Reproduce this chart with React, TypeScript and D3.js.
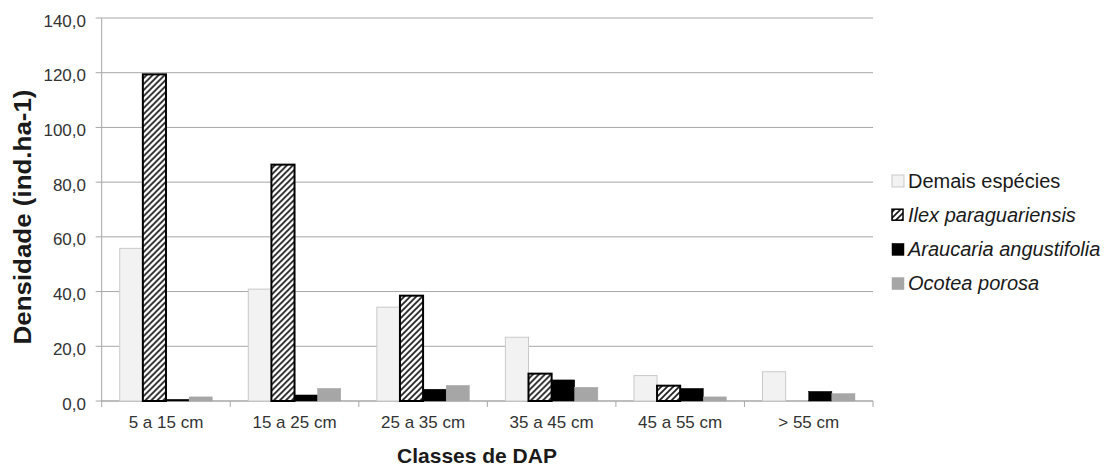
import React from "react";
import * as d3 from "d3";

const categories = ["5 a 15 cm", "15 a 25 cm", "25 a 35 cm", "35 a 45 cm", "45 a 55 cm", "> 55 cm"];
const seriesNames = ["Demais espécies", "Ilex paraguariensis", "Araucaria angustifolia", "Ocotea porosa"];
const demais = [55.8, 40.9, 34.3, 23.3, 9.3, 10.7];
const ilex = [119.4, 86.4, 38.5, 10.0, 5.6, 0.0];
const araucaria = [0.6, 2.2, 4.3, 7.7, 4.6, 3.5];
const ocotea = [1.5, 4.6, 5.7, 5.0, 1.5, 2.7];
const yTicks = [0, 20, 40, 60, 80, 100, 120, 140];

const seriesValues = [demais, ilex, araucaria, ocotea];
const italicSeries = [false, true, true, true];

const W = 1107;
const H = 466;
const plotLeft = 101.7;
const plotRight = 873;
const plotTop = 18;
const plotBottom = 401;

const fontFamily = "'Liberation Sans', Arial, sans-serif";
const locale = d3.formatLocale({ decimal: ",", thousands: ".", grouping: [3], currency: ["", ""] });
const fmt = locale.format(".1f");

const fills = ["#f2f2f2", "url(#hatch)", "#000000", "#a6a6a6"];
const strokes = ["#c9c9c9", "#000000", "#000000", "#a6a6a6"];
const strokeWidths = [1, 2, 0.5, 0.5];

export default function App() {
  const x = d3.scaleBand<string>().domain(categories).range([plotLeft, plotRight]).paddingInner(0).paddingOuter(0);
  const xInner = d3
    .scaleBand<string>()
    .domain(seriesNames)
    .range([0, x.bandwidth()])
    .paddingInner(0)
    .paddingOuter(0.78);
  const y = d3.scaleLinear().domain([0, 140]).range([plotBottom, plotTop]);

  const boundaries = categories.map((c) => x(c) as number).concat([plotRight]);

  return (
    <svg width={W} height={H} style={{ position: "absolute", left: 0, top: 0, background: "#fff" }} fontFamily={fontFamily}>
      <defs>
        <pattern id="hatch" patternUnits="userSpaceOnUse" width={6} height={6}>
          <rect width={6} height={6} fill="#fff" />
          <path d="M0,6 L6,0 M-1.5,1.5 L1.5,-1.5 M4.5,7.5 L7.5,4.5" stroke="#1a1a1a" strokeWidth={1.7} />
        </pattern>
      </defs>
      <rect x={0} y={0} width={W} height={H} fill="#fff" />

      {/* gridlines */}
      {yTicks.map((t) => (
        <line key={"g" + t} x1={plotLeft} x2={plotRight} y1={y(t)} y2={y(t)} stroke="#a6a6a6" strokeWidth={1} />
      ))}
      {/* y axis */}
      <line x1={plotLeft} x2={plotLeft} y1={plotTop} y2={plotBottom} stroke="#a6a6a6" strokeWidth={1} />
      {yTicks.map((t) => (
        <g key={"yt" + t}>
          <line x1={plotLeft - 6} x2={plotLeft} y1={y(t)} y2={y(t)} stroke="#a6a6a6" />
          <text x={86} y={y(t) + 8.5} textAnchor="end" fontSize={17} fill="#333">
            {fmt(t)}
          </text>
        </g>
      ))}

      {/* x axis */}
      <line x1={plotLeft} x2={plotRight} y1={plotBottom} y2={plotBottom} stroke="#a6a6a6" strokeWidth={1} />
      {boundaries.map((b, i) => (
        <line key={"xt" + i} x1={b} x2={b} y1={plotBottom} y2={plotBottom + 6} stroke="#a6a6a6" />
      ))}

      {/* bars */}
      {categories.map((c, ci) => (
        <g key={c} transform={`translate(${x(c)},0)`}>
          {seriesNames.map((s, si) => {
            const v = seriesValues[si][ci];
            return (
              <rect
                key={s}
                x={xInner(s)}
                y={y(v)}
                width={xInner.bandwidth()}
                height={Math.max(0, y(0) - y(v))}
                fill={fills[si]}
                stroke={strokes[si]}
                strokeWidth={strokeWidths[si]}
              />
            );
          })}
        </g>
      ))}

      {categories.map((c) => (
        <text key={"xl" + c} x={(x(c) as number) + x.bandwidth() / 2} y={428} textAnchor="middle" fontSize={17} fill="#333">
          {c}
        </text>
      ))}

      {/* axis titles */}
      <text x={477} y={463} textAnchor="middle" fontSize={21} fontWeight="bold" fill="#1a1a1a">
        Classes de DAP
      </text>
      <text
        transform={`translate(31,217) rotate(-90)`}
        textAnchor="middle"
        fontSize={23}
        fontWeight="bold"
        fill="#1a1a1a"
        textLength={255}
        lengthAdjust="spacingAndGlyphs"
      >
        Densidade (ind.ha-1)
      </text>

      {/* legend */}
      {seriesNames.map((s, i) => {
        const by = 187.5 + i * 34.2;
        return (
          <g key={"lg" + s}>
            <rect
              x={892}
              y={by - 12.5}
              width={i === 1 ? 11 : 12}
              height={i === 1 ? 11 : 12}
              fill={fills[i]}
              stroke={strokes[i]}
              strokeWidth={i === 1 ? 1.5 : strokeWidths[i]}
            />
            <text x={908} y={by} fontSize={20} fill="#1a1a1a" fontStyle={italicSeries[i] ? "italic" : "normal"}>
              {s}
            </text>
          </g>
        );
      })}
    </svg>
  );
}
